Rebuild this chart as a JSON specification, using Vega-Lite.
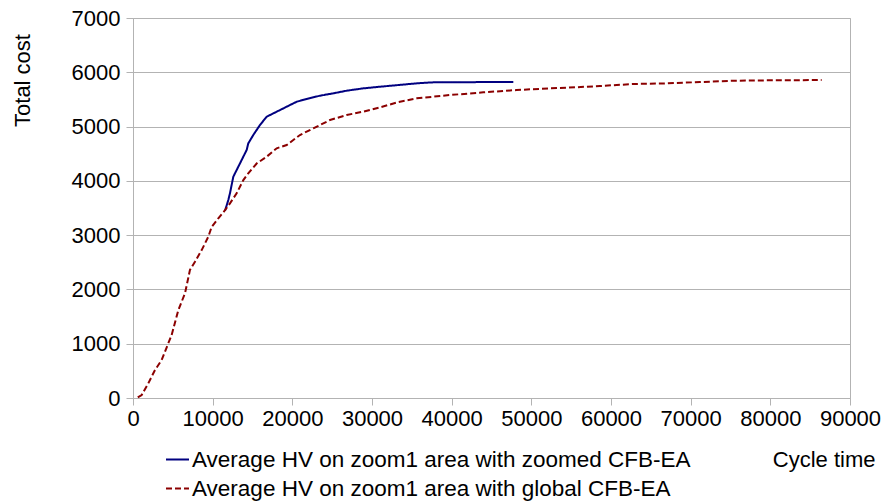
{
  "$schema": "https://vega.github.io/schema/vega-lite/v6.json",
  "width": 717,
  "height": 380,
  "autosize": {"type": "none"},
  "padding": {"left": 133, "top": 18, "right": 35, "bottom": 105},
  "background": "white",
  "config": {
    "view": {"stroke": "#b3b3b3", "strokeWidth": 1},
    "font": "Liberation Sans"
  },
  "data": {
    "values": [
      {"series": "Average HV on zoom1 area with zoomed CFB-EA", "x": 11550, "y": 3450},
      {"series": "Average HV on zoom1 area with zoomed CFB-EA", "x": 11970, "y": 3650},
      {"series": "Average HV on zoom1 area with zoomed CFB-EA", "x": 12170, "y": 3770},
      {"series": "Average HV on zoom1 area with zoomed CFB-EA", "x": 12590, "y": 4076},
      {"series": "Average HV on zoom1 area with zoomed CFB-EA", "x": 13640, "y": 4384},
      {"series": "Average HV on zoom1 area with zoomed CFB-EA", "x": 14270, "y": 4570},
      {"series": "Average HV on zoom1 area with zoomed CFB-EA", "x": 14470, "y": 4690},
      {"series": "Average HV on zoom1 area with zoomed CFB-EA", "x": 15100, "y": 4845},
      {"series": "Average HV on zoom1 area with zoomed CFB-EA", "x": 15940, "y": 5029},
      {"series": "Average HV on zoom1 area with zoomed CFB-EA", "x": 16780, "y": 5182},
      {"series": "Average HV on zoom1 area with zoomed CFB-EA", "x": 18040, "y": 5274},
      {"series": "Average HV on zoom1 area with zoomed CFB-EA", "x": 19290, "y": 5366},
      {"series": "Average HV on zoom1 area with zoomed CFB-EA", "x": 20550, "y": 5458},
      {"series": "Average HV on zoom1 area with zoomed CFB-EA", "x": 21800, "y": 5508},
      {"series": "Average HV on zoom1 area with zoomed CFB-EA", "x": 23470, "y": 5569},
      {"series": "Average HV on zoom1 area with zoomed CFB-EA", "x": 25140, "y": 5612},
      {"series": "Average HV on zoom1 area with zoomed CFB-EA", "x": 26820, "y": 5661},
      {"series": "Average HV on zoom1 area with zoomed CFB-EA", "x": 28910, "y": 5704},
      {"series": "Average HV on zoom1 area with zoomed CFB-EA", "x": 31000, "y": 5734},
      {"series": "Average HV on zoom1 area with zoomed CFB-EA", "x": 33300, "y": 5765},
      {"series": "Average HV on zoom1 area with zoomed CFB-EA", "x": 35610, "y": 5796},
      {"series": "Average HV on zoom1 area with zoomed CFB-EA", "x": 37490, "y": 5814},
      {"series": "Average HV on zoom1 area with zoomed CFB-EA", "x": 42000, "y": 5818},
      {"series": "Average HV on zoom1 area with zoomed CFB-EA", "x": 47740, "y": 5822},
      {"series": "Average HV on zoom1 area with global CFB-EA", "x": 600, "y": 10},
      {"series": "Average HV on zoom1 area with global CFB-EA", "x": 1090, "y": 55},
      {"series": "Average HV on zoom1 area with global CFB-EA", "x": 1920, "y": 270},
      {"series": "Average HV on zoom1 area with global CFB-EA", "x": 2760, "y": 515},
      {"series": "Average HV on zoom1 area with global CFB-EA", "x": 3600, "y": 700},
      {"series": "Average HV on zoom1 area with global CFB-EA", "x": 4430, "y": 1007},
      {"series": "Average HV on zoom1 area with global CFB-EA", "x": 4850, "y": 1160},
      {"series": "Average HV on zoom1 area with global CFB-EA", "x": 5690, "y": 1620},
      {"series": "Average HV on zoom1 area with global CFB-EA", "x": 6530, "y": 1930},
      {"series": "Average HV on zoom1 area with global CFB-EA", "x": 7150, "y": 2360},
      {"series": "Average HV on zoom1 area with global CFB-EA", "x": 7780, "y": 2510},
      {"series": "Average HV on zoom1 area with global CFB-EA", "x": 8620, "y": 2725},
      {"series": "Average HV on zoom1 area with global CFB-EA", "x": 9450, "y": 2970},
      {"series": "Average HV on zoom1 area with global CFB-EA", "x": 9870, "y": 3150},
      {"series": "Average HV on zoom1 area with global CFB-EA", "x": 10710, "y": 3310},
      {"series": "Average HV on zoom1 area with global CFB-EA", "x": 11550, "y": 3460},
      {"series": "Average HV on zoom1 area with global CFB-EA", "x": 12170, "y": 3586},
      {"series": "Average HV on zoom1 area with global CFB-EA", "x": 13010, "y": 3770},
      {"series": "Average HV on zoom1 area with global CFB-EA", "x": 13850, "y": 4015},
      {"series": "Average HV on zoom1 area with global CFB-EA", "x": 14470, "y": 4140},
      {"series": "Average HV on zoom1 area with global CFB-EA", "x": 15520, "y": 4320},
      {"series": "Average HV on zoom1 area with global CFB-EA", "x": 16780, "y": 4445},
      {"series": "Average HV on zoom1 area with global CFB-EA", "x": 18040, "y": 4600},
      {"series": "Average HV on zoom1 area with global CFB-EA", "x": 19290, "y": 4660},
      {"series": "Average HV on zoom1 area with global CFB-EA", "x": 20960, "y": 4845},
      {"series": "Average HV on zoom1 area with global CFB-EA", "x": 22630, "y": 4967},
      {"series": "Average HV on zoom1 area with global CFB-EA", "x": 24730, "y": 5120},
      {"series": "Average HV on zoom1 area with global CFB-EA", "x": 26820, "y": 5213},
      {"series": "Average HV on zoom1 area with global CFB-EA", "x": 28910, "y": 5275},
      {"series": "Average HV on zoom1 area with global CFB-EA", "x": 31000, "y": 5354},
      {"series": "Average HV on zoom1 area with global CFB-EA", "x": 33300, "y": 5450},
      {"series": "Average HV on zoom1 area with global CFB-EA", "x": 35610, "y": 5520},
      {"series": "Average HV on zoom1 area with global CFB-EA", "x": 39790, "y": 5581},
      {"series": "Average HV on zoom1 area with global CFB-EA", "x": 43970, "y": 5630},
      {"series": "Average HV on zoom1 area with global CFB-EA", "x": 48160, "y": 5673},
      {"series": "Average HV on zoom1 area with global CFB-EA", "x": 52340, "y": 5704},
      {"series": "Average HV on zoom1 area with global CFB-EA", "x": 54430, "y": 5716},
      {"series": "Average HV on zoom1 area with global CFB-EA", "x": 58620, "y": 5747},
      {"series": "Average HV on zoom1 area with global CFB-EA", "x": 62800, "y": 5784},
      {"series": "Average HV on zoom1 area with global CFB-EA", "x": 66990, "y": 5796},
      {"series": "Average HV on zoom1 area with global CFB-EA", "x": 71170, "y": 5820},
      {"series": "Average HV on zoom1 area with global CFB-EA", "x": 75350, "y": 5845},
      {"series": "Average HV on zoom1 area with global CFB-EA", "x": 79530, "y": 5851},
      {"series": "Average HV on zoom1 area with global CFB-EA", "x": 86440, "y": 5857}
    ]
  },
  "mark": {"type": "line", "strokeWidth": 2},
  "encoding": {
    "x": {
      "field": "x",
      "type": "quantitative",
      "scale": {"domain": [0, 90000], "nice": false, "zero": true},
      "axis": {
        "title": "Cycle time",
        "values": [0, 10000, 20000, 30000, 40000, 50000, 60000, 70000, 80000, 90000],
        "format": "d",
        "grid": false,
        "domainColor": "#b3b3b3",
        "tickColor": "#b3b3b3",
        "tickSize": 7,
        "labelFontSize": 22,
        "labelColor": "#000000",
        "labelPadding": 3,
        "labelFlush": false,
        "titleFontSize": 22,
        "titleFontWeight": "normal",
        "titleColor": "#000000",
        "titleAnchor": "end",
        "titleAlign": "right",
        "titleBaseline": "middle",
        "titleX": 742,
        "titleY": 61
      }
    },
    "y": {
      "field": "y",
      "type": "quantitative",
      "scale": {"domain": [0, 7000], "nice": false},
      "axis": {
        "title": "Total cost",
        "values": [0, 1000, 2000, 3000, 4000, 5000, 6000, 7000],
        "format": "d",
        "grid": true,
        "gridColor": "#b3b3b3",
        "domainColor": "#b3b3b3",
        "tickColor": "#b3b3b3",
        "tickSize": 7,
        "labelFontSize": 22,
        "labelColor": "#000000",
        "labelPadding": 6,
        "labelFlush": false,
        "titleFontSize": 22,
        "titleFontWeight": "normal",
        "titleColor": "#000000",
        "titleAngle": -90,
        "titleAlign": "center",
        "titleBaseline": "middle",
        "titleX": -111,
        "titleY": 62
      }
    },
    "color": {
      "field": "series",
      "type": "nominal",
      "scale": {
        "domain": ["Average HV on zoom1 area with zoomed CFB-EA", "Average HV on zoom1 area with global CFB-EA"],
        "range": ["#000080", "#8b0000"]
      },
      "legend": {
        "title": null,
        "orient": "none",
        "legendX": 32,
        "legendY": 429,
        "direction": "vertical",
        "symbolType": "stroke",
        "symbolSize": 529,
        "symbolStrokeWidth": 2,
        "labelFontSize": 22.5,
        "labelColor": "#000000",
        "labelOffset": 2,
        "labelLimit": 800,
        "rowPadding": 5
      }
    },
    "strokeDash": {
      "field": "series",
      "type": "nominal",
      "scale": {
        "domain": ["Average HV on zoom1 area with zoomed CFB-EA", "Average HV on zoom1 area with global CFB-EA"],
        "range": [[1, 0], [6, 3]]
      },
      "legend": null
    }
  }
}
